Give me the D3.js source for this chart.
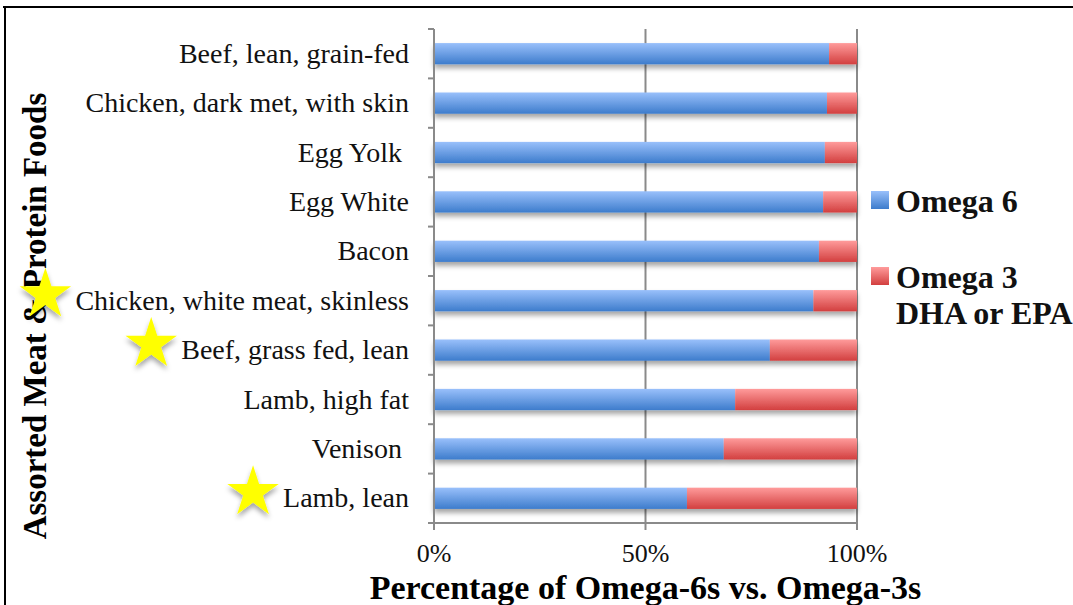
<!DOCTYPE html>
<html>
<head>
<meta charset="utf-8">
<script src="https://cdn.jsdelivr.net/npm/d3@7"></script>
<style>
  body { margin: 0; background: #fff; }
  svg { display: block; font-family: "Liberation Serif", serif; }
</style>
</head>
<body>
<div id="chart"></div>
<script>
// categories top to bottom
const foods = [
  "Beef, lean, grain-fed",
  "Chicken, dark met, with skin",
  "Egg Yolk ",
  "Egg White",
  "Bacon",
  "Chicken, white meat, skinless",
  "Beef, grass fed, lean",
  "Lamb, high fat",
  "Venison ",
  "Lamb, lean"
];
// share of omega 6 (rest is omega 3)
const omega6 = [0.934, 0.929, 0.924, 0.920, 0.910, 0.897, 0.794, 0.712, 0.685, 0.598];
const omega3 = omega6.map((v) => 1 - v);
const starred = ["Chicken, white meat, skinless", "Beef, grass fed, lean", "Lamb, lean"];
const xTicks = [0, 0.5, 1];
const seriesNames = ["Omega 6", "Omega 3"];

const W = 1073, H = 605;
const margin = { top: 29, left: 434, right: 216, bottom: 82 };

const svg = d3.select("#chart").append("svg").attr("width", W).attr("height", H);
const defs = svg.append("defs");

function grad(id, top, bottom) {
  const g = defs.append("linearGradient").attr("id", id)
    .attr("x1", 0).attr("y1", 0).attr("x2", 0).attr("y2", 1);
  g.append("stop").attr("offset", "0%").attr("stop-color", top);
  g.append("stop").attr("offset", "100%").attr("stop-color", bottom);
}
grad("gBlue", "#99c0fb", "#3d7ccc");
grad("gRed", "#ff9b9b", "#d23f3f");

const shadow = defs.append("filter").attr("id", "shadow")
  .attr("x", "-10%").attr("y", "-30%").attr("width", "120%").attr("height", "190%");
shadow.append("feDropShadow").attr("dx", 0).attr("dy", 4).attr("stdDeviation", 2.5)
  .attr("flood-color", "#000").attr("flood-opacity", 0.35);

// frame
svg.append("line").attr("x1", 3).attr("x2", W).attr("y1", 7).attr("y2", 7)
  .attr("stroke", "#000").attr("stroke-width", 2);
svg.append("line").attr("x1", 5).attr("x2", 5).attr("y1", 6).attr("y2", H)
  .attr("stroke", "#000").attr("stroke-width", 2);

const x = d3.scaleLinear().domain([0, 1]).range([margin.left, W - margin.right]);
const y = d3.scaleBand().domain(foods).range([margin.top, H - margin.bottom])
  .paddingInner(0.57).paddingOuter(0.285);

const grey = "#8a8a8a";
const y0 = margin.top, y1 = H - margin.bottom;

// grid lines
svg.append("g").selectAll("line").data(xTicks.slice(1)).join("line")
  .attr("x1", (d) => x(d)).attr("x2", (d) => x(d))
  .attr("y1", y0).attr("y2", y1)
  .attr("stroke", grey).attr("stroke-width", 2);

// bars
const stack = d3.stack().keys(["o6", "o3"])(
  foods.map((f, i) => ({ food: f, o6: omega6[i], o3: omega3[i] }))
);
const fills = ["url(#gBlue)", "url(#gRed)"];
const barG = svg.append("g").attr("filter", "url(#shadow)");
stack.forEach((layer, k) => {
  barG.append("g").selectAll("rect").data(layer).join("rect")
    .attr("x", (d) => x(d[0]))
    .attr("width", (d) => x(d[1]) - x(d[0]))
    .attr("y", (d) => y(d.data.food))
    .attr("height", y.bandwidth())
    .attr("fill", fills[k]);
});

// y axis
const yAx = svg.append("g");
yAx.append("line").attr("x1", x(0)).attr("x2", x(0)).attr("y1", y0).attr("y2", y1 + 6)
  .attr("stroke", grey).attr("stroke-width", 2);
yAx.selectAll(".tk").data(d3.range(foods.length + 1)).join("line")
  .attr("x1", x(0) - 6).attr("x2", x(0))
  .attr("y1", (i) => y0 + i * y.step()).attr("y2", (i) => y0 + i * y.step())
  .attr("stroke", grey).attr("stroke-width", 2);
const labels = yAx.selectAll("text").data(foods).join("text")
  .attr("x", x(0) - 25)
  .attr("y", (d) => y(d) + y.bandwidth() / 2 + 9)
  .attr("text-anchor", "end")
  .attr("font-size", 28)
  .attr("fill", "#111")
  .style("white-space", "pre")
  .text((d) => d);

// x axis
const xAx = svg.append("g");
xAx.append("line").attr("x1", x(0) - 6).attr("x2", x(1)).attr("y1", y1).attr("y2", y1)
  .attr("stroke", grey).attr("stroke-width", 2);
xAx.selectAll("line.tk").data(xTicks).join("line").attr("class", "tk")
  .attr("x1", (d) => x(d)).attr("x2", (d) => x(d)).attr("y1", y1).attr("y2", y1 + 7)
  .attr("stroke", grey).attr("stroke-width", 2);
xAx.selectAll("text").data(xTicks).join("text")
  .attr("x", (d) => x(d)).attr("y", 562)
  .attr("text-anchor", "middle").attr("font-size", 26).attr("fill", "#111")
  .text(d3.format(".0%"));

// axis titles
svg.append("text").attr("x", x(0.5)).attr("y", 599)
  .attr("text-anchor", "middle").attr("font-size", 34).attr("font-weight", "bold")
  .text("Percentage of Omega-6s vs. Omega-3s");
svg.append("text")
  .attr("transform", `translate(46, ${(y0 + y1) / 2 + 40}) rotate(-90)`)
  .attr("text-anchor", "middle").attr("font-size", 33).attr("font-weight", "bold")
  .text("Assorted Meat & Protein Foods");

// stars next to chosen labels
const star = d3.symbol().type(d3.symbolStar).size(820);
labels.each(function (d) {
  if (!starred.includes(d)) return;
  const b = this.getBBox();
  svg.append("path")
    .attr("d", star())
    .attr("transform", `translate(${b.x - 30}, ${y(d) + y.bandwidth() / 2 - 6})`)
    .attr("fill", "#ffff00")
    .attr("filter", "url(#shadow)");
});

// legend
const leg = svg.append("g");
const legRows = [
  { fill: fills[0], y: 191, lines: ["Omega 6"] },
  { fill: fills[1], y: 267, lines: ["Omega 3", "DHA or EPA"] }
];
legRows.forEach((r) => {
  leg.append("rect").attr("x", 871).attr("y", r.y).attr("width", 18).attr("height", 18)
    .attr("fill", r.fill);
  r.lines.forEach((t, j) => {
    leg.append("text").attr("x", 896).attr("y", r.y + 21 + j * 36)
      .attr("font-size", 32).attr("font-weight", "bold").attr("fill", "#111")
      .text(t);
  });
});
</script>
</body>
</html>
